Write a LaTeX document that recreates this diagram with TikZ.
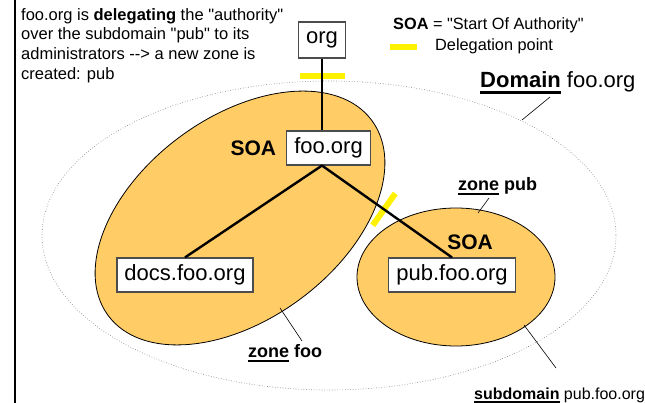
\documentclass[tikz,border=0pt]{standalone}
\usepackage{fontspec}
\setmainfont{Liberation Sans}[Ligatures=TeXOff]
\usetikzlibrary{positioning}
\definecolor{zonefill}{HTML}{FFCC66}
\newcommand{\ulword}[1]{\setbox0\hbox{#1}\rlap{\rule[-0.26em]{\wd0}{0.11em}}\box0\relax}
\tikzset{
  host/.style={draw=black!70, line width=1.1pt, fill=white, inner xsep=7.5pt, inner ysep=0pt, minimum height=34pt, font=\fontsize{22}{26}\selectfont},
  zone/.style={draw=black, line width=0.8pt, fill=zonefill},
  link/.style={line width=2.4pt, line join=round},
  cutmark/.style={fill=yellow, inner sep=0pt},
  pointer/.style={line width=0.6pt},
  soa/.style={inner sep=0pt, font=\fontsize{21}{25}\selectfont\bfseries},
  note/.style={inner sep=0pt, font=\fontsize{16.5}{19.7}\selectfont},
  legend/.style={inner sep=0pt, font=\fontsize{16.3}{19}\selectfont},
  zonelbl/.style={inner sep=0pt, font=\fontsize{18}{21}\selectfont\bfseries}
}
\begin{document}
\begin{tikzpicture}[x=1pt, y=-1pt]
  \useasboundingbox (0,0) rectangle (645,403);
  \draw [line width=2pt] (15,0) -- (15,403);
  % domain and zones
  \draw [black!55, dotted, line width=0.6pt] (329,235.5) ellipse (287 and 154.5);
  \draw [zone, rotate around={36.5:(240,218)}] (240,218) ellipse (164 and 101);
  \draw [zone] (456,277) ellipse (99 and 69);
  % hosts
  \node [host, minimum height=36pt, inner xsep=8pt] (org) at (322,40) {org};
  \node [host] (foo) at (328.5,148) {foo.org};
  \node [host] (docs) at (185,275) {docs.foo.org};
  \node [host] (pub) at (452,275) {pub.foo.org};
  \coordinate (fooS) at (org |- foo.south);
  % delegation points
  \node [cutmark, minimum width=45pt, minimum height=6pt, below=14.7pt of org] (orgcut) {};
  \path (fooS) -- (pub.north) node [cutmark, pos=0.477, sloped, minimum width=6pt, minimum height=39pt] (pubcut) {};
  \draw [link] (org.south) -- (org.south |- foo.north);
  \draw [link] (docs.north) -- (fooS) -- (pub.north);
  % labels
  \node [soa, left=10pt of foo] (soafoo) {SOA};
  \node [soa, anchor=base] (soapub) at (470,250) {SOA};
  \node [note, anchor=north west, align=left] (intro) at (21,8) {foo.org is \textbf{delegating} the "authority"\\over the subdomain "pub" to its\\administrators --> a new zone is\\created: pub};
  \node [legend, anchor=base west] (soadef) at (393,29.5) {\textbf{SOA} = "Start Of Authority"};
  \node [legend, anchor=base west] (delegtxt) at (435,51) {Delegation point};
  \node [cutmark, minimum width=27pt, minimum height=6pt, left=18pt of delegtxt] (legbar) {};
  \node [inner sep=0pt, font=\fontsize{22}{26}\selectfont, anchor=base west] (domlbl) at (480,88) {\ulword{\textbf{Domain}} foo.org};
  \node [zonelbl, anchor=base west] (pubzone) at (458,190.7) {\ulword{zone} pub};
  \node [zonelbl, anchor=base west] (foozone) at (248,357) {\ulword{zone} foo};
  \node [legend, font=\fontsize{16}{19}\selectfont, anchor=base west] (sublbl) at (474,399) {\ulword{\textbf{subdomain}} pub.foo.org};
  % pointers
  \coordinate (domfoot) at (550,97);
  \coordinate (domtip) at (522,120);
  \coordinate (pubfoot) at (489,198);
  \coordinate (pubtip) at (478,213);
  \coordinate (foofoot) at (302,341);
  \coordinate (footip) at (280,308);
  \coordinate (subfoot) at (556,368);
  \coordinate (subtip) at (524,325);
  \draw [pointer] (domfoot) -- (domtip);
  \draw [pointer] (pubfoot) -- (pubtip);
  \draw [pointer] (foofoot) -- (footip);
  \draw [pointer] (subfoot) -- (subtip);
\end{tikzpicture}
\end{document}
